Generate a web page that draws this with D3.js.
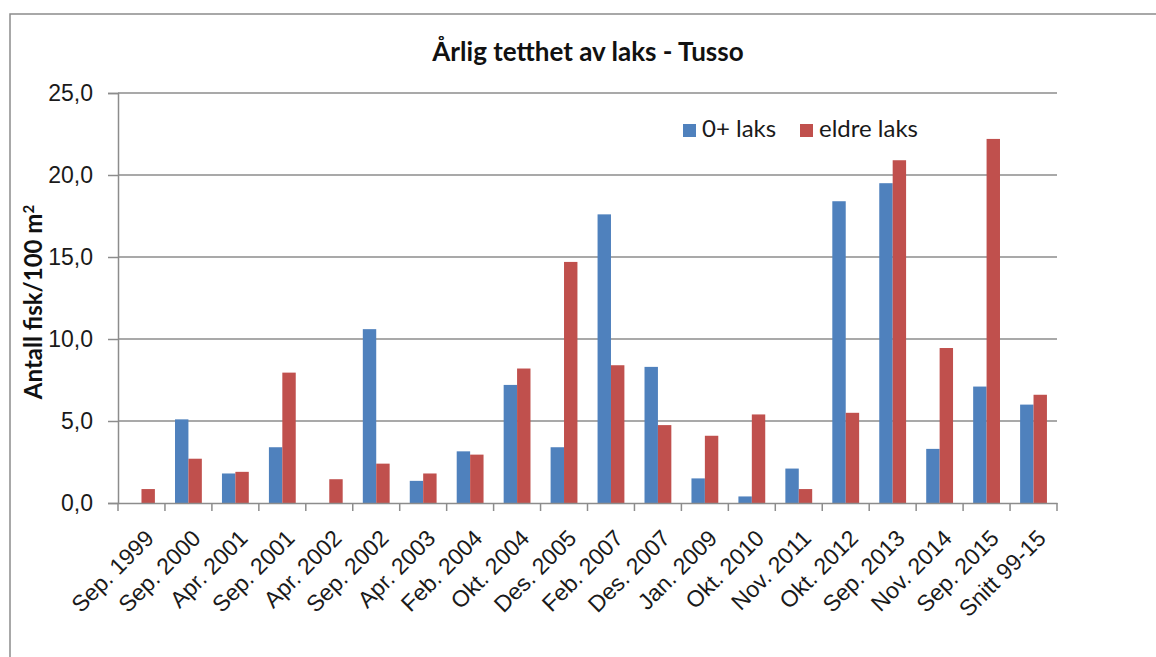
<!DOCTYPE html>
<html lang="no">
<head>
<meta charset="utf-8">
<title>Årlig tetthet av laks - Tusso</title>
<script src="https://d3js.org/d3.v7.min.js"></script>
<style>
  html, body { margin: 0; padding: 0; background: #fff; overflow: hidden; }
  svg { display: block; font-family: Lato, "Open Sans", sans-serif; }
  .grid line { stroke: #8c8c8c; stroke-width: 1.5px; }
  .axis path, .axis line { stroke: #8c8c8c; stroke-width: 1.5px; }
  .axis text { fill: #1a1a1a; }
</style>
</head>
<body>
<div id="chart"></div>
<script>
// data
const categories = ["Sep. 1999", "Sep. 2000", "Apr. 2001", "Sep. 2001", "Apr. 2002",
  "Sep. 2002", "Apr. 2003", "Feb. 2004", "Okt. 2004", "Des. 2005", "Feb. 2007",
  "Des. 2007", "Jan. 2009", "Okt. 2010", "Nov. 2011", "Okt. 2012", "Sep. 2013",
  "Nov. 2014", "Sep. 2015", "Snitt 99-15"];
const laks0 = [0, 5.1, 1.8, 3.4, 0, 10.6, 1.35, 3.15, 7.2, 3.4, 17.6, 8.3, 1.5, 0.4,
  2.1, 18.4, 19.5, 3.3, 7.1, 6.0];
const eldreLaks = [0.85, 2.7, 1.9, 7.95, 1.45, 2.4, 1.8, 2.95, 8.2, 14.7, 8.4, 4.75,
  4.1, 5.4, 0.85, 5.5, 20.9, 9.45, 22.2, 6.6];
const seriesNames = ["0+ laks", "eldre laks"];
const seriesColors = ["#4f81bd", "#c0504d"];
const yTicks = [0, 5, 10, 15, 20, 25];

const W = 1156, H = 657;
const plotL = 118, plotR = 1057, plotT = 93, plotB = 503;

const svg = d3.select("#chart").append("svg")
    .attr("width", W)
    .attr("height", H);

// outer chart border (runs off the right/bottom of the picture)
svg.append("rect")
    .attr("x", 10).attr("y", 14)
    .attr("width", W + 50).attr("height", H + 50)
    .attr("fill", "none")
    .attr("stroke", "#8c8c8c")
    .attr("stroke-width", 1.5);

const x = d3.scaleBand().domain(categories).range([plotL, plotR]);
const xs = d3.scaleBand().domain(seriesNames)
    .range([0, x.bandwidth()])
    .paddingInner(0).paddingOuter(0.75);
const y = d3.scaleLinear().domain([0, 25]).range([plotB, plotT]);

const fmt = d => d3.format(".1f")(d).replace(".", ",");

// gridlines
svg.append("g").attr("class", "grid")
  .selectAll("line").data(yTicks.slice(1)).join("line")
    .attr("x1", plotL).attr("x2", plotR)
    .attr("y1", d => y(d)).attr("y2", d => y(d));

// bars
const rows = categories.map((c, i) => ({ cat: c, vals: [laks0[i], eldreLaks[i]] }));
const groups = svg.append("g").selectAll("g").data(rows).join("g")
    .attr("transform", d => `translate(${x(d.cat)},0)`);
groups.selectAll("rect")
  .data(d => d.vals.map((v, k) => ({ name: seriesNames[k], v: v, k: k })))
  .join("rect")
    .attr("x", d => xs(d.name))
    .attr("width", xs.bandwidth())
    .attr("y", d => y(d.v))
    .attr("height", d => y(0) - y(d.v))
    .attr("fill", d => seriesColors[d.k]);

// y axis
const yAxis = svg.append("g").attr("class", "axis")
    .attr("transform", `translate(${plotL},0)`)
    .call(d3.axisLeft(y).tickValues(yTicks).tickFormat(fmt).tickSizeOuter(0).tickSize(10).tickPadding(15));
yAxis.selectAll("text").style("font-size", "23px");

// x axis
const xAxis = svg.append("g").attr("class", "axis")
    .attr("transform", `translate(0,${plotB})`)
    .call(d3.axisBottom(x).tickSize(0).tickSizeOuter(0));
xAxis.selectAll(".tick line").remove();
xAxis.selectAll("text")
    .style("font-size", "23px")
    .attr("text-anchor", "end")
    .attr("dy", "0.35em")
    .attr("transform", "translate(8,31) rotate(-45)")
    .attr("x", 0).attr("y", 0);
// boundary ticks between categories
svg.append("g").attr("class", "axis")
  .selectAll("line").data(categories.concat(["_end"])).join("line")
    .attr("x1", (d, i) => plotL + i * x.step())
    .attr("x2", (d, i) => plotL + i * x.step())
    .attr("y1", plotB).attr("y2", plotB + 8);

// title
svg.append("text")
    .attr("x", 588).attr("y", 61)
    .attr("text-anchor", "middle")
    .style("font-size", "26px").style("font-weight", "bold").attr("fill", "#111")
    .text("Årlig tetthet av laks - Tusso");

// y axis title
const yt = svg.append("text")
    .attr("transform", "translate(42,302) rotate(-90)")
    .attr("text-anchor", "middle")
    .style("font-size", "24px").style("font-weight", "bold").attr("fill", "#111");
yt.append("tspan").text("Antall fisk/100 m");
yt.append("tspan").attr("dy", "-0.55em").style("font-size", "15px").text("2");

// legend
const legend = svg.append("g").selectAll("g").data(seriesNames).join("g")
    .attr("transform", (d, i) => `translate(${[683, 800][i]},124)`);
legend.append("rect").attr("width", 13).attr("height", 13)
    .attr("fill", (d, i) => seriesColors[i]);
legend.append("text").attr("x", 19).attr("y", 13)
    .style("font-size", "24px").attr("fill", "#1a1a1a")
    .text(d => d);
</script>
</body>
</html>
